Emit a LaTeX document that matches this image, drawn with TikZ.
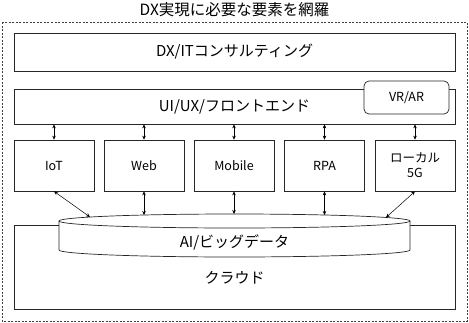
\documentclass[tikz,border=0pt]{standalone}
\usepackage{fontspec}
\setmainfont{Noto Sans CJK JP}
\usetikzlibrary{arrows.meta}
\begin{document}
\begin{tikzpicture}[x=1pt,y=-1pt, line width=0.7pt,
  box/.style={draw=black!85, fill=white, inner sep=0pt},
  big/.style={font=\fontsize{15}{18}\selectfont},
  sm/.style={font=\fontsize{12.5}{15}\selectfont, align=center},
  dbl/.style={{Stealth[length=4pt,width=3.5pt]}-{Stealth[length=4pt,width=3.5pt]}, line width=0.5pt}]
\useasboundingbox (0,0) rectangle (469,322);
\node[font=\fontsize{15.5}{18}\selectfont] (title) at (234.5,10) {DX実現に必要な要素を網羅};
\draw[draw=black!75, dash pattern=on 2pt off 1.5pt, line width=0.6pt] (2,22) rectangle (467,321);
% top bars
\node[box, big, minimum width=441pt, minimum height=38pt] (dxit) at (234.5,52) {DX/ITコンサルティング};
\node[box, big, minimum width=441pt, minimum height=35pt] (ui) at (234.5,106.5) {UI/UX/フロントエンド};
\node[box, sm, rounded corners=5pt, minimum width=85pt, minimum height=33pt] (vrar) at (406.5,97.5) {VR/AR};
% middle boxes
\node[box, sm, minimum width=80pt, minimum height=51pt] (iot) at (54,165.5) {IoT};
\node[box, sm, minimum width=80pt, minimum height=51pt] (web) at (144,165.5) {Web};
\node[box, sm, minimum width=80pt, minimum height=51pt] (mob) at (234,165.5) {Mobile};
\node[box, sm, minimum width=80pt, minimum height=51pt] (rpa) at (324.5,165.5) {RPA};
\node[box, sm, minimum width=80pt, minimum height=51pt] (g5) at (415,165.5) {ローカル\\5G};
% cloud
\node[box, minimum width=441pt, minimum height=84pt] (cloud) at (234.5,267) {};
\node[big] (cloudlbl) at (234.5,278) {クラウド};
% cylinder
\fill[white] (59,221) -- (59,250) arc[start angle=180, end angle=360, x radius=175.5pt, y radius=7pt]
  -- (410,221) arc[start angle=0, end angle=180, x radius=175.5pt, y radius=7pt] -- cycle;
\draw[draw=black!85] (59,221) -- (59,250) arc[start angle=180, end angle=360, x radius=175.5pt, y radius=7pt] -- (410,221);
\draw[draw=black!85] (234.5,221) ellipse [x radius=175.5pt, y radius=7pt];
\node[big] (ai) at (234.5,242) {AI/ビッグデータ};
% ellipse points
\coordinate (e1) at (90,217);
\coordinate (e2) at (144,215);
\coordinate (e3) at (234,214);
\coordinate (e4) at (324.5,215);
\coordinate (e5) at (386,217.5);
% arrows top
\foreach \n in {iot,web,mob,rpa,g5}{
  \draw[dbl] (\n.north |- ui.south) -- (\n.north);
}
% arrows bottom
\draw[dbl] (iot.south) -- (e1);
\draw[dbl] (web.south) -- (e2);
\draw[dbl] (mob.south) -- (e3);
\draw[dbl] (rpa.south) -- (e4);
\draw[dbl] (g5.south) -- (e5);
\end{tikzpicture}
\end{document}
